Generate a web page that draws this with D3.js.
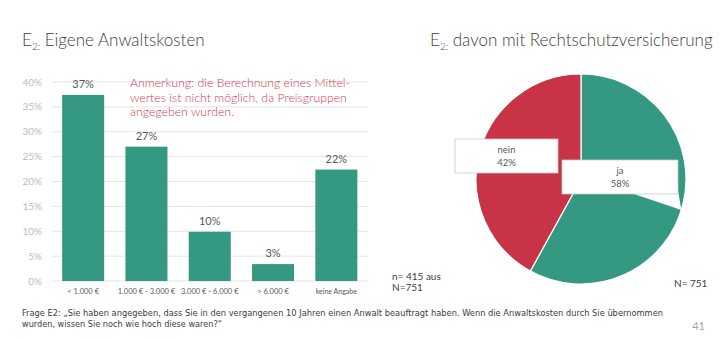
<!DOCTYPE html>
<html><head><meta charset="utf-8">
<script src="https://cdn.jsdelivr.net/npm/d3@7"></script>
<style>body{margin:0;background:#fff}svg{display:block}</style>
</head><body>
<svg id="c" width="720" height="340"></svg>
<script>
const categories = ["< 1.000 €", "1.000 € - 3.000 €", "3.000 € - 6.000 €", "> 6.000 €", "keine Angabe"];
const values = [37.4, 27.0, 9.9, 3.4, 22.4];
const valueLabels = ["37%", "27%", "10%", "3%", "22%"];
const yTicks = [0, 5, 10, 15, 20, 25, 30, 35, 40];
const pieLabels = ["ja", "nein"];
const pieValues = [58, 42];
const pieTexts = ["58%", "42%"];

const svg = d3.select("#c");
const F = "Lato, 'Open Sans', sans-serif";
const green = "#359883", red = "#c93347";

function title(x, y, rest, len) {
  const t = svg.append("text").attr("x", x).attr("y", y).attr("font-family", F).attr("font-weight", 300)
    .attr("font-size", 17).attr("fill", "#404040");
  t.append("tspan").text("E");
  t.append("tspan").attr("font-size", 10).attr("dy", 4).text("2:");
  t.append("tspan").attr("dy", -4).text(" " + rest);
}
title(22, 46, "Eigene Anwaltskosten");
title(430, 46, "davon mit Rechtschutzversicherung");

// bar chart
const x = d3.scaleBand().domain(categories).range([51.5, 368]).paddingInner(0.336).paddingOuter(0.168);
const y = d3.scaleLinear().domain([0, 40]).range([281, 82]);

const g = svg.append("g");
g.selectAll("line.grid").data(yTicks).join("line")
  .attr("x1", 52).attr("x2", 368).attr("y1", d => y(d)).attr("y2", d => y(d))
  .attr("stroke", "#e4e4e4").attr("stroke-width", 1);
g.selectAll("text.yt").data(yTicks).join("text")
  .attr("x", 42).attr("y", d => y(d) + 3.5).attr("text-anchor", "end")
  .attr("font-family", F).attr("font-size", 10).attr("fill", "#bcbcbc").text(d => d + "%");

g.selectAll("rect.bar").data(values).join("rect")
  .attr("x", (d, i) => x(categories[i])).attr("width", x.bandwidth())
  .attr("y", d => y(d)).attr("height", d => y(0) - y(d)).attr("fill", green);
g.selectAll("text.vl").data(values).join("text")
  .attr("x", (d, i) => x(categories[i]) + x.bandwidth() / 2).attr("y", d => y(d) - 7)
  .attr("text-anchor", "middle").attr("font-family", F).attr("font-size", 11).attr("fill", "#595959")
  .text((d, i) => valueLabels[i]);
g.selectAll("text.xl").data(categories).join("text")
  .attr("x", d => x(d) + x.bandwidth() / 2).attr("y", 294)
  .attr("text-anchor", "middle").attr("font-family", F).attr("font-size", d => d === "keine Angabe" ? 7 : 7.5).attr("fill", "#595959")
  .text(d => d);

const note = ["Anmerkung: die Berechnung eines Mittel-", "wertes ist nicht möglich, da Preisgruppen", "angegeben wurden."];
svg.selectAll("text.note").data(note).join("text")
  .attr("x", 130).attr("y", (d, i) => 87 + i * 14.5)
  .attr("font-family", F).attr("font-weight", 300).attr("font-size", 12.3).attr("fill", "#d2394e").text(d => d);

svg.append("text").attr("x", 392).attr("y", 280).attr("font-family", F).attr("font-size", 10).attr("fill", "#404040").text("n= 415 aus");
svg.append("text").attr("x", 392).attr("y", 291).attr("font-family", F).attr("font-size", 10).attr("fill", "#404040").text("N=751");
svg.append("text").attr("x", 674).attr("y", 287).attr("font-family", F).attr("font-size", 10).attr("fill", "#404040").text("N= 751");

// pie
const cx = 581, cy = 179, r = 105;
const pie = d3.pie().sort(null).value(d => d)(pieValues);
const arc = d3.arc().innerRadius(0).outerRadius(r);
const pg = svg.append("g").attr("transform", `translate(${cx},${cy})`);
pg.selectAll("path").data(pie).join("path").attr("d", arc)
  .attr("fill", (d, i) => i === 0 ? green : red).attr("stroke", "#fff").attr("stroke-width", 1.2);

// callouts
const boxes = [
  {x: 562, y: 160, w: 116, h: 34},
  {x: 455, y: 139, w: 103, h: 34}
];
svg.append("path")
  .attr("d", `M${boxes[0].x + 72},${boxes[0].y + boxes[0].h} L${cx + r * Math.sin(pie[0].startAngle + 1.87)},${cy - r * Math.cos(pie[0].startAngle + 1.87)} L${boxes[0].x + boxes[0].w},${boxes[0].y + boxes[0].h - 4} Z`)
  .attr("fill", "#fff");
boxes.forEach((b, i) => {
  svg.append("rect").attr("x", b.x).attr("y", b.y).attr("width", b.w).attr("height", b.h)
    .attr("fill", "#fff").attr("stroke", "#c8c8c8").attr("stroke-width", 0.8);
  svg.append("text").attr("x", b.x + b.w / 2).attr("y", b.y + 14).attr("text-anchor", "middle")
    .attr("font-family", F).attr("font-size", 9.5).attr("fill", "#595959").text(pieLabels[i]);
  svg.append("text").attr("x", b.x + b.w / 2).attr("y", b.y + 27).attr("text-anchor", "middle")
    .attr("font-family", F).attr("font-size", 9.5).attr("fill", "#595959").text(pieTexts[i]);
});

// footer
const FN = "'Liberation Sans Narrow', 'DejaVu Sans Condensed', sans-serif";
svg.append("text").attr("x", 22).attr("y", 316).attr("font-family", FN).attr("font-size", 8.5).attr("fill", "#404040")
  .attr("textLength", 641).attr("lengthAdjust", "spacingAndGlyphs")
  .text("Frage E2: „Sie haben angegeben, dass Sie in den vergangenen 10 Jahren einen Anwalt beauftragt haben. Wenn die Anwaltskosten durch Sie übernommen");
svg.append("text").attr("x", 22).attr("y", 327).attr("font-family", FN).attr("font-size", 8.5).attr("fill", "#404040")
  .attr("textLength", 200).attr("lengthAdjust", "spacingAndGlyphs")
  .text("wurden, wissen Sie noch wie hoch diese waren?“");
svg.append("text").attr("x", 705).attr("y", 330).attr("text-anchor", "end").attr("font-family", F).attr("font-size", 11).attr("fill", "#a6a6a6").text("41");
</script>
</body></html>
